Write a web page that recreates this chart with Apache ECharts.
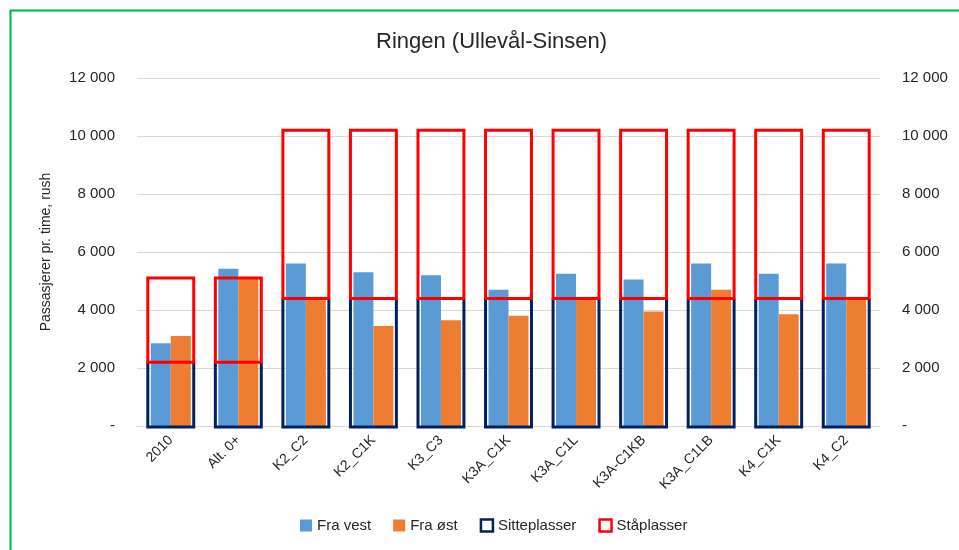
<!DOCTYPE html>
<html>
<head>
<meta charset="utf-8">
<script src="https://cdn.jsdelivr.net/npm/echarts@6/dist/echarts.min.js"></script>
<style>
  html, body { margin: 0; padding: 0; background: #fff; }
  #chart { width: 959px; height: 550px; }
</style>
</head>
<body>
<div id="chart"></div>
<script>
const categories = ['2010', 'Alt. 0+', 'K2_C2', 'K2_C1K', 'K3_C3', 'K3A_C1K', 'K3A_C1L', 'K3A-C1KB', 'K3A_C1LB', 'K4_C1K', 'K4_C2'];
const fraVest = [2850, 5420, 5600, 5300, 5200, 4700, 5250, 5050, 5600, 5250, 5600];
const fraOst = [3100, 5080, 4400, 3450, 3650, 3800, 4450, 3950, 4700, 3850, 4420];
const sitteplasser = [2200, 2200, 4400, 4400, 4400, 4400, 4400, 4400, 4400, 4400, 4400];
const staplasser = [2900, 2900, 5800, 5800, 5800, 5800, 5800, 5800, 5800, 5800, 5800];

const font = '"Liberation Sans", Arial, sans-serif';
const txt = '#262626';
const fmt = v => v === 0 ? '-' : String(v).replace(/\B(?=(\d{3})+(?!\d))/g, ' ');

// rows for the frame series: [category index, seats, seats + standing]
const frameRows = categories.map((c, i) => [i, sitteplasser[i], sitteplasser[i] + staplasser[i]]);

// navy U-shape (sides + bottom) for the seated capacity
const renderSeats = (params, api) => {
    const i = api.value(0);
    const w = api.size([1, 0])[0] * 0.68;
    const base = api.coord([i, 0]);
    const top = api.coord([i, api.value(1)]);
    const x0 = base[0] - w / 2, x1 = base[0] + w / 2;
    return {
        type: 'polyline',
        shape: { points: [[x0, top[1]], [x0, base[1] + 1], [x1, base[1] + 1], [x1, top[1]]] },
        style: { stroke: '#002060', lineWidth: 3, fill: null }
    };
};

// red box from seated capacity up to total capacity
const renderStanding = (params, api) => {
    const i = api.value(0);
    const w = api.size([1, 0])[0] * 0.68;
    const low = api.coord([i, api.value(1)]);
    const high = api.coord([i, api.value(2)]);
    return {
        type: 'rect',
        shape: { x: low[0] - w / 2, y: high[1], width: w, height: low[1] - high[1] },
        style: { stroke: '#ff0000', lineWidth: 3, fill: null }
    };
};

const myChart = echarts.init(document.getElementById('chart'));
const option = {
    animation: false,
    textStyle: { fontFamily: font },
    title: {
        text: 'Ringen (Ullevål-Sinsen)',
        left: 371,
        top: 26,
        textStyle: { fontFamily: font, fontSize: 22, fontWeight: 'normal', color: txt }
    },
    graphic: [{
        type: 'polyline',
        shape: { points: [[10.5, 550], [10.5, 10.5], [959, 10.5]] },
        style: { stroke: '#00b050', lineWidth: 2, fill: null }
    }],
    legend: {
        bottom: 12,
        left: 295,
        itemWidth: 12,
        itemHeight: 12,
        itemGap: 22,
        textStyle: { fontFamily: font, fontSize: 15, color: txt },
        data: [
            { name: 'Fra vest', icon: 'rect', itemStyle: { color: '#5b9bd5' } },
            { name: 'Fra øst', icon: 'rect', itemStyle: { color: '#ed7d31' } },
            { name: 'Sitteplasser', icon: 'rect', itemStyle: { color: '#fff', borderColor: '#002060', borderWidth: 2.5 } },
            { name: 'Ståplasser', icon: 'rect', itemStyle: { color: '#fff', borderColor: '#ff0000', borderWidth: 2.5 } }
        ]
    },
    grid: { left: 137, right: 79, top: 78, bottom: 124 },
    xAxis: {
        type: 'category',
        data: categories,
        axisLine: { lineStyle: { color: '#d9d9d9' } },
        axisTick: { show: false },
        axisLabel: { rotate: 45, fontSize: 14, color: txt, margin: 12, fontFamily: font, interval: 0 }
    },
    yAxis: [{
        type: 'value',
        min: 0,
        max: 12000,
        interval: 2000,
        name: 'Passasjerer pr. time, rush',
        nameLocation: 'middle',
        nameGap: 84,
        nameTextStyle: { fontSize: 14, color: txt, fontFamily: font },
        axisLabel: { formatter: fmt, fontSize: 15, color: txt, margin: 22, fontFamily: font },
        splitLine: { lineStyle: { color: '#d9d9d9', width: 1 } },
        axisLine: { show: false },
        axisTick: { show: false }
    }, {
        type: 'value',
        min: 0,
        max: 12000,
        interval: 2000,
        position: 'right',
        axisLabel: { formatter: fmt, fontSize: 15, color: txt, margin: 22, fontFamily: font },
        splitLine: { show: false },
        axisLine: { show: false },
        axisTick: { show: false }
    }],
    series: [
        {
            name: 'Fra vest', type: 'bar', data: fraVest,
            barWidth: 20, barGap: '0%',
            itemStyle: { color: '#5b9bd5' }
        },
        {
            name: 'Fra øst', type: 'bar', data: fraOst,
            barWidth: 20, barGap: '0%',
            itemStyle: { color: '#ed7d31' }
        },
        {
            name: 'Sitteplasser', type: 'custom', data: frameRows,
            renderItem: renderSeats,
            encode: { x: 0, y: [1, 2] },
            itemStyle: { color: '#002060' },
            z: 3
        },
        {
            name: 'Ståplasser', type: 'custom', data: frameRows,
            renderItem: renderStanding,
            encode: { x: 0, y: [1, 2] },
            itemStyle: { color: '#ff0000' },
            z: 4
        }
    ]
};
myChart.setOption(option);
window.addEventListener('resize', () => {
    myChart.resize();
});
</script>
</body>
</html>
